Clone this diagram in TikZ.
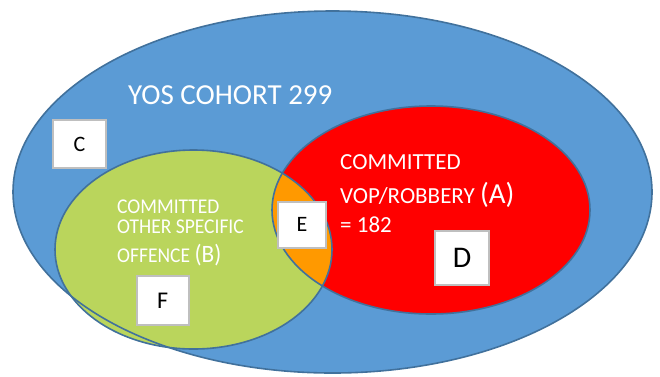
\documentclass[tikz,border=0pt]{standalone}
\usepackage{fontspec}
\setmainfont{Carlito}
\definecolor{bluefill}{HTML}{5B9BD5}
\definecolor{edgeblue}{HTML}{41719C}
\definecolor{redfill}{HTML}{FF0000}
\definecolor{greenfill}{HTML}{BAD55C}
\definecolor{orangefill}{HTML}{FF9900}
\definecolor{boxgray}{HTML}{BFBFBF}
\begin{document}
\begin{tikzpicture}[x=1pt,y=-1pt,
  letterbox/.style={draw=boxgray, line width=1.6pt, fill=white, inner sep=0pt, text=black},
  wtext/.style={text=white, anchor=base west, inner sep=0pt},
  ring/.style={draw=edgeblue, line width=1.6pt}]
\useasboundingbox (0,0) rectangle (660,376);
% blue outer set
\fill[bluefill] (332.5,192) ellipse [x radius=319.5pt, y radius=181pt];
\draw[ring] (332.5,192) ellipse [x radius=319.5pt, y radius=181pt];
% red set A
\fill[redfill] (431,210) ellipse [x radius=159pt, y radius=104pt];
% green set B
\fill[greenfill] (193.5,249.5) ellipse [x radius=138.5pt, y radius=99.5pt];
% orange intersection
\begin{scope}
  \clip (431,210) ellipse [x radius=159pt, y radius=104pt];
  \fill[orangefill] (193.5,249.5) ellipse [x radius=138.5pt, y radius=99.5pt];
\end{scope}
\begin{scope}
  \clip (193.5,249.5) ellipse [x radius=138.5pt, y radius=99.5pt];
  \draw[ring] (332.5,192) ellipse [x radius=319.5pt, y radius=181pt];
\end{scope}
\draw[ring] (431,210) ellipse [x radius=159pt, y radius=104pt];
\draw[ring] (193.5,249.5) ellipse [x radius=138.5pt, y radius=99.5pt];
% texts
\node[wtext, font=\fontsize{29}{29}\selectfont] (cohort) at (128,104) {YOS COHORT 299};
\node[wtext, font=\fontsize{23}{23}\selectfont] (a1) at (340,169) {COMMITTED};
\node[wtext, font=\fontsize{23}{23}\selectfont] (a2) at (340,203) {VOP/ROBBERY \fontsize{29}{29}\selectfont(A)};
\node[wtext, font=\fontsize{23}{23}\selectfont] (a3) at (340,232) {= 182};
\node[wtext, font=\fontsize{21}{21}\selectfont, xscale=0.93] (b1) at (117,213) {COMMITTED};
\node[wtext, font=\fontsize{21}{21}\selectfont, xscale=0.93] (b2) at (117,233.5) {OTHER SPECIFIC};
\node[wtext, font=\fontsize{21}{21}\selectfont, xscale=0.93] (b3) at (117,262) {OFFENCE \fontsize{25}{25}\selectfont(B)};
% letter boxes
\node[letterbox, minimum width=53pt, minimum height=48pt, font=\fontsize{22}{22}\selectfont] (c) at (79.5,144) {C};
\node[letterbox, minimum width=48pt, minimum height=46pt, font=\fontsize{22}{22}\selectfont] (e) at (302,224.7) {E};
\node[letterbox, minimum width=54pt, minimum height=54pt, font=\fontsize{30}{30}\selectfont] (d) at (462,258) {D};
\node[letterbox, minimum width=52pt, minimum height=49pt, font=\fontsize{24}{24}\selectfont] (f) at (162.7,300.5) {F};
\end{tikzpicture}
\end{document}
